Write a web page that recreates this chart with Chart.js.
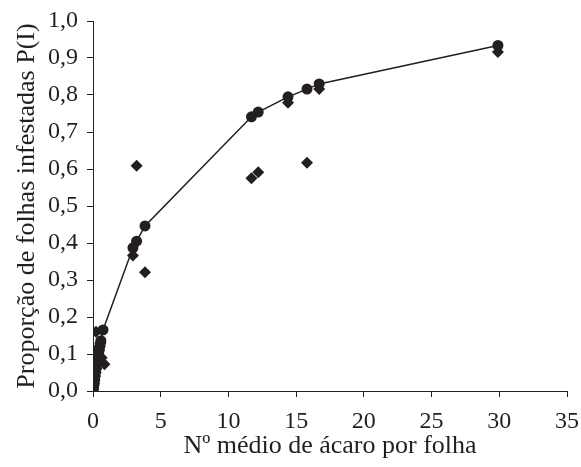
<!DOCTYPE html>
<html>
<head>
<meta charset="utf-8">
<script src="https://cdn.jsdelivr.net/npm/chart.js@4/dist/chart.umd.min.js"></script>
<style>
  html, body { margin: 0; padding: 0; background: #fff; }
  #wrap { width: 581px; height: 467px; }
</style>
</head>
<body>
<div id="wrap"><canvas id="chart"></canvas></div>
<script>
// Estimated values (model P(I) - circles joined by the line)
const estX = [0.02, 0.04, 0.06, 0.09, 0.12, 0.15, 0.19, 0.23, 0.28, 0.33, 0.38, 0.43, 0.48, 0.53, 0.58, 0.74, 2.95, 3.22, 3.84, 11.7, 12.2, 14.4, 15.8, 16.7, 29.9];
const estY = [0.005, 0.012, 0.018, 0.026, 0.034, 0.042, 0.052, 0.062, 0.074, 0.085, 0.096, 0.107, 0.117, 0.127, 0.136, 0.165, 0.387, 0.405, 0.446, 0.741, 0.754, 0.795, 0.816, 0.83, 0.934];

// Observed values (diamonds)
const obsX = [0.02, 0.05, 0.08, 0.11, 0.15, 0.2, 0.25, 0.3, 0.35, 0.4, 0.45, 0.5, 0.55, 0.22, 0.64, 0.85, 2.95, 3.22, 3.84, 11.7, 12.2, 14.4, 15.8, 16.7, 29.9];
const obsY = [0.006, 0.015, 0.02, 0.03, 0.04, 0.05, 0.06, 0.07, 0.08, 0.1, 0.11, 0.12, 0.13, 0.16, 0.09, 0.072, 0.366, 0.609, 0.321, 0.575, 0.591, 0.779, 0.617, 0.816, 0.916];

const xTicks = [0, 5, 10, 15, 20, 25, 30, 35];
const yTicks = [0, 0.1, 0.2, 0.3, 0.4, 0.5, 0.6, 0.7, 0.8, 0.9, 1.0];

const ink = '#231f20';
const serif = 'Liberation Serif';

// Build point lists for chart.js
const toPoints = (xs, ys) => xs.map((x, i) => ({ x: x, y: ys[i] }));

new Chart(document.getElementById('chart'), {
  type: 'scatter',
  data: {
    datasets: [
      {
        label: 'Estimado',
        data: toPoints(estX, estY),
        showLine: true,
        borderColor: ink,
        borderWidth: 1.5,
        backgroundColor: ink,
        pointStyle: 'circle',
        pointRadius: 5.5,
        pointBorderWidth: 0,
        order: 1
      },
      {
        label: 'Observado',
        data: toPoints(obsX, obsY),
        showLine: false,
        borderColor: ink,
        backgroundColor: ink,
        pointStyle: 'rectRot',
        pointRadius: 6,
        pointBorderWidth: 0,
        order: 2
      }
    ]
  },
  options: {
    responsive: true,
    maintainAspectRatio: false,
    animation: false,
    layout: { padding: { top: 21, right: 14, left: 0, bottom: 0 } },
    plugins: {
      legend: { display: false },
      tooltip: { enabled: false }
    },
    scales: {
      x: {
        type: 'linear',
        min: 0,
        max: 35,
        afterBuildTicks: (scale) => { scale.ticks = xTicks.map(v => ({ value: v })); },
        // fixed axis box; label overhang is covered by the layout padding
        afterFit: (scale) => { scale.height = 76; scale.paddingLeft = 0; scale.paddingRight = 0; },
        border: { color: ink, width: 1 },
        grid: { drawOnChartArea: false, drawTicks: true, tickLength: 6, color: ink },
        ticks: {
          color: ink,
          padding: 10,
          maxRotation: 0,
          font: { family: serif, size: 24 }
        },
        title: {
          display: true,
          text: 'Nº médio de ácaro por folha',
          color: ink,
          padding: { top: 0, bottom: 5 },
          font: { family: serif, size: 26 }
        }
      },
      y: {
        type: 'linear',
        min: 0,
        max: 1,
        afterBuildTicks: (scale) => { scale.ticks = yTicks.map(v => ({ value: v })); },
        afterFit: (scale) => { scale.width = 93; scale.paddingTop = 0; scale.paddingBottom = 0; },
        border: { color: ink, width: 1 },
        grid: { drawOnChartArea: false, drawTicks: true, tickLength: 6, color: ink },
        ticks: {
          color: ink,
          padding: 9,
          font: { family: serif, size: 24 },
          callback: (v) => v.toFixed(1).replace('.', ',')
        },
        title: {
          display: true,
          text: 'Proporção de folhas infestadas P(I)',
          color: ink,
          padding: { top: 12, bottom: 0 },
          font: { family: serif, size: 26 }
        }
      }
    }
  }
});
</script>
</body>
</html>
